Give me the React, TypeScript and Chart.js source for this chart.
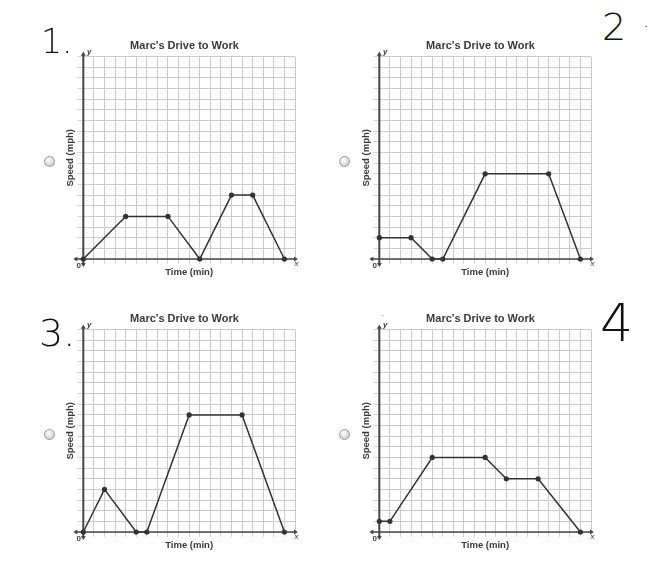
import React, { useEffect, useRef } from "react";
import { Chart, registerables } from "chart.js";

Chart.register(...registerables);

// ---- data ----
const CHART_TITLE = "Marc's Drive to Work";
const X_TITLE = "Time (min)";
const Y_TITLE = "Speed (mph)";
const X_MIN = 0;
const X_MAX = 20;
const Y_MIN = 0;
const Y_MAX = 19;

const chart1Time = [0, 4, 8, 11, 14, 16, 19];
const chart1Speed = [0, 4, 4, 0, 6, 6, 0];

const chart2Time = [0, 3, 5, 6, 10, 16, 19];
const chart2Speed = [2, 2, 0, 0, 8, 8, 0];

const chart3Time = [0, 2, 5, 6, 10, 15, 19];
const chart3Speed = [0, 4, 0, 0, 11, 11, 0];

const chart4Time = [0, 1, 5, 10, 12, 15, 19];
const chart4Speed = [1, 1, 7, 7, 5, 5, 0];

const FONT = "'Liberation Sans', Arial, sans-serif";
const TEXT = "#3a3a3a";
const AXIS = "#474747";
const GRID = "#cccccc";

function arrow(ctx: CanvasRenderingContext2D, x: number, y: number, dir: string) {
  ctx.beginPath();
  if (dir === "right") {
    ctx.moveTo(x, y); ctx.lineTo(x - 4, y - 2.5); ctx.lineTo(x - 4, y + 2.5);
  } else if (dir === "left") {
    ctx.moveTo(x, y); ctx.lineTo(x + 4, y - 2.5); ctx.lineTo(x + 4, y + 2.5);
  } else if (dir === "up") {
    ctx.moveTo(x, y); ctx.lineTo(x - 2.5, y + 4); ctx.lineTo(x + 2.5, y + 4);
  } else {
    ctx.moveTo(x, y); ctx.lineTo(x - 2.5, y - 4); ctx.lineTo(x + 2.5, y - 4);
  }
  ctx.closePath();
  ctx.fill();
}

const axisPlugin = {
  id: "axisArrows",
  beforeDatasetsDraw(chart: any) {
    const { ctx, chartArea: a, scales } = chart;
    const x0 = scales.x.getPixelForValue(0);
    const y0 = scales.y.getPixelForValue(0);
    ctx.save();
    ctx.strokeStyle = AXIS;
    ctx.fillStyle = AXIS;
    ctx.lineWidth = 1.5;
    ctx.beginPath();
    ctx.moveTo(a.left - 8, y0);
    ctx.lineTo(a.right + 1, y0);
    ctx.stroke();
    arrow(ctx, a.left - 10, y0, "left");
    arrow(ctx, a.right + 3, y0, "right");
    ctx.lineWidth = 2;
    ctx.beginPath();
    ctx.moveTo(x0, a.bottom + 6);
    ctx.lineTo(x0, a.top - 3);
    ctx.stroke();
    arrow(ctx, x0, a.top - 5, "up");
    arrow(ctx, x0, a.bottom + 8, "down");
    ctx.restore();
  },
  afterDraw(chart: any) {
    const { ctx, chartArea: a } = chart;
    ctx.save();
    ctx.fillStyle = TEXT;
    ctx.textAlign = "center";
    ctx.textBaseline = "middle";
    ctx.font = `bold 8px ${FONT}`;
    ctx.fillText("0", a.left - 4.5, a.bottom + 7);
    ctx.font = `italic 8px ${FONT}`;
    ctx.fillText("x", a.right + 1.5, a.bottom + 4.5);
    ctx.font = `italic bold 8px ${FONT}`;
    ctx.fillText("y", a.left + 6, a.top - 4.5);
    ctx.restore();
  },
};

function Panel({ time, speed, left, top }: { time: number[]; speed: number[]; left: number; top: number }) {
  const ref = useRef<HTMLCanvasElement | null>(null);
  useEffect(() => {
    if (!ref.current) return;
    const chart = new Chart(ref.current, {
      type: "line",
      data: {
        datasets: [
          {
            data: time.map((t, i) => ({ x: t, y: speed[i] })),
            borderColor: "#333333",
            backgroundColor: "#333333",
            borderWidth: 1.5,
            pointRadius: 2.6,
            pointBackgroundColor: "#333333",
            pointBorderWidth: 0,
            tension: 0,
            clip: false as any,
          },
        ],
      },
      options: {
        responsive: false,
        animation: false,
        layout: { padding: { left: 44, right: 10, top: 0, bottom: 0 } },
        plugins: {
          legend: { display: false },
          tooltip: { enabled: false },
          title: {
            display: true,
            text: CHART_TITLE,
            color: TEXT,
            font: { family: FONT, size: 11, weight: "bold", lineHeight: 1.2 },
            padding: { top: 9.1, bottom: 4.4 },
          },
        },
        scales: {
          x: {
            type: "linear",
            min: X_MIN,
            max: X_MAX,
            ticks: { display: false, stepSize: 1 },
            grid: { color: GRID, lineWidth: 1, drawTicks: true, tickLength: 5, tickColor: "#d6d6d6" },
            border: { display: false },
            title: {
              display: true,
              text: X_TITLE,
              color: TEXT,
              font: { family: FONT, size: 9.5, weight: "bold", lineHeight: 1.2 },
              padding: { top: 0, bottom: 2.3 },
            },
            afterFit: (s: any) => { s.height = 21; },
          },
          y: {
            type: "linear",
            min: Y_MIN,
            max: Y_MAX,
            ticks: { display: false, stepSize: 1 },
            grid: { color: GRID, lineWidth: 1, drawTicks: true, tickLength: 6, tickColor: "#d6d6d6" },
            border: { display: false },
            title: {
              display: true,
              text: Y_TITLE,
              color: TEXT,
              font: { family: FONT, size: 9.5, weight: "bold", lineHeight: 1.2 },
              padding: { top: -9.7, bottom: 0 },
            },
            afterFit: (s: any) => { s.width = 9.3; },
          },
        },
      } as any,
      plugins: [axisPlugin],
    });
    return () => chart.destroy();
  }, [time, speed]);
  return (
    <canvas
      ref={ref}
      width={275}
      height={250}
      style={{ position: "absolute", left, top, width: 275, height: 250 }}
    />
  );
}

const hand: React.CSSProperties = {
  position: "absolute",
  fontFamily: "'DejaVu Sans ExtraLight', 'DejaVu Sans', sans-serif",
  fontWeight: 200,
  lineHeight: 1,
  color: "#111",
  whiteSpace: "nowrap",
};

const radio: React.CSSProperties = {
  position: "absolute",
  margin: 0,
  width: 11,
  height: 11,
  appearance: "none",
  WebkitAppearance: "none",
  borderRadius: "50%",
  border: "1px solid #9a9a9a",
  background: "radial-gradient(circle at 40% 35%, #ffffff 0%, #e4e4e4 45%, #bdbdbd 100%)",
  boxSizing: "border-box",
};

export default function App() {
  const DX = 295.7;
  const DY = 272.7;
  return (
    <div style={{ position: "absolute", left: 0, top: 0, width: 663, height: 579, background: "#fff", overflow: "hidden" }}>
      <Panel time={chart1Time} speed={chart1Speed} left={30} top={30} />
      <Panel time={chart2Time} speed={chart2Speed} left={30 + DX} top={30} />
      <Panel time={chart3Time} speed={chart3Speed} left={30} top={30 + DY} />
      <Panel time={chart4Time} speed={chart4Speed} left={30 + DX} top={30 + DY} />

      <input type="radio" name="ans" style={{ ...radio, left: 43.5, top: 156 }} />
      <input type="radio" name="ans" style={{ ...radio, left: 43.5 + DX, top: 156 }} />
      <input type="radio" name="ans" style={{ ...radio, left: 43.5, top: 156 + DY }} />
      <input type="radio" name="ans" style={{ ...radio, left: 43.5 + DX, top: 156 + DY }} />

      <div style={{ ...hand, left: 41, top: 25, fontSize: 33 }}>1.</div>
      <div style={{ ...hand, left: 602, top: 8, fontSize: 38 }}>2</div>
      <div style={{ ...hand, left: 643, top: 10, fontSize: 20 }}>.</div>
      <div style={{ ...hand, left: 39, top: 314, fontSize: 38 }}>3.</div>
      <div style={{ ...hand, left: 600, top: 297, fontSize: 52 }}>4</div>
      <div style={{ ...hand, left: 381, top: 306, fontSize: 12 }}>.</div>
    </div>
  );
}
